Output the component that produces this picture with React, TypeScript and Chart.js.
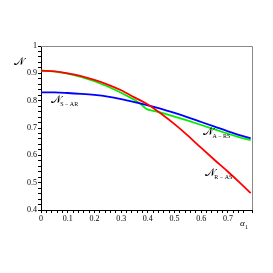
import React, { useEffect, useRef } from "react";
import { Chart, registerables } from "chart.js";

Chart.register(...registerables);

const alphaGrid = [0, 0.05, 0.1, 0.15, 0.2, 0.25, 0.3, 0.35, 0.4, 0.45, 0.5, 0.55, 0.6, 0.65, 0.7, 0.75, 0.785];
const redRAS = [0.910, 0.907, 0.900, 0.890, 0.876, 0.859, 0.838, 0.812, 0.786, 0.752, 0.714, 0.672, 0.627, 0.583, 0.540, 0.495, 0.462];
const blueSAR = [0.830, 0.830, 0.828, 0.825, 0.821, 0.815, 0.806, 0.795, 0.783, 0.770, 0.755, 0.739, 0.722, 0.705, 0.688, 0.672, 0.662];
const alphaGreen = [0, 0.05, 0.1, 0.15, 0.2, 0.25, 0.3, 0.35, 0.37, 0.39, 0.4, 0.42, 0.45, 0.5, 0.55, 0.6, 0.65, 0.7, 0.75, 0.785];
const greenARS = [0.910, 0.907, 0.899, 0.887, 0.871, 0.852, 0.829, 0.803, 0.790, 0.773, 0.767, 0.763, 0.756, 0.742, 0.727, 0.711, 0.695, 0.679, 0.664, 0.656];

const yTickLabels = ["0.4", "0.5", "0.6", "0.7", "0.8", "0.9", "1"];
const xTickLabels = ["0", "0.1", "0.2", "0.3", "0.4", "0.5", "0.6", "0.7"];

const curveLabels = [
  { sub: "S − AR", x: 0.038, y: 0.792 },
  { sub: "A − RS", x: 0.608, y: 0.673 },
  { sub: "R − AS", x: 0.615, y: 0.526 },
];

const SERIF = "'Liberation Serif', 'DejaVu Serif', serif";

function toPts(xs: number[], ys: number[]) {
  return xs.map((x, i) => ({ x, y: ys[i] }));
}

function labelFor(v: number, list: string[]) {
  const r = Math.round(v * 10);
  if (Math.abs(v * 10 - r) > 1e-6) return "";
  const s = r === 0 ? "0" : r === 10 ? "1" : (r / 10).toFixed(1);
  return list.includes(s) ? s : "";
}

const decorPlugin = {
  id: "decor",
  afterDraw(chart: any) {
    const { ctx, chartArea, scales } = chart;
    const xs = scales.x;
    const ys = scales.y;
    ctx.save();
    ctx.strokeStyle = "#888";
    ctx.lineWidth = 1;
    ctx.beginPath();
    ctx.moveTo(chartArea.left, chartArea.top + 0.5);
    ctx.lineTo(chartArea.right + 0.5, chartArea.top + 0.5);
    ctx.lineTo(chartArea.right + 0.5, chartArea.bottom);
    ctx.stroke();
    ctx.fillStyle = "#000";
    ctx.textBaseline = "alphabetic";
    ctx.textAlign = "left";
    for (const l of curveLabels) {
      const px = xs.getPixelForValue(l.x);
      const py = ys.getPixelForValue(l.y);
      ctx.font = `11px ${SERIF}`;
      ctx.fillText("𝒩", px, py);
      ctx.font = `6px ${SERIF}`;
      ctx.fillText(l.sub, px + 9, py + 3);
    }
    ctx.font = `11px ${SERIF}`;
    ctx.fillText("𝒩", chartArea.left - 27, chartArea.top + 19);
    ctx.font = `italic 9px ${SERIF}`;
    ctx.fillText("α", chartArea.right - 12, chartArea.bottom + 16);
    ctx.font = `6px ${SERIF}`;
    ctx.fillText("1", chartArea.right - 7, chartArea.bottom + 19);
    ctx.restore();
  },
};

export default function App() {
  const ref = useRef<HTMLCanvasElement | null>(null);
  useEffect(() => {
    if (!ref.current) return;
    const chart = new Chart(ref.current, {
      type: "line",
      data: {
        datasets: [
          {
            label: "R-AS",
            data: toPts(alphaGrid, redRAS),
            borderColor: "#ff0000",
            borderWidth: 1.8,
            pointRadius: 0,
            cubicInterpolationMode: "monotone",
          },
          {
            label: "S-AR",
            data: toPts(alphaGrid, blueSAR),
            borderColor: "#0000ff",
            borderWidth: 1.8,
            pointRadius: 0,
            cubicInterpolationMode: "monotone",
          },
          {
            label: "A-RS",
            data: toPts(alphaGreen, greenARS),
            borderColor: "#00ee00",
            borderWidth: 1.8,
            pointRadius: 0,
            tension: 0,
          },
        ],
      },
      options: {
        animation: false,
        responsive: false,
        maintainAspectRatio: false,
        layout: { padding: { top: 46, right: 21, left: 0, bottom: 0 } },
        plugins: { legend: { display: false }, tooltip: { enabled: false } },
        scales: {
          x: {
            type: "linear",
            min: 0,
            max: 0.79,
            afterFit: (s: any) => { s.height = 63; },
            border: { color: "#000", width: 1 },
            grid: { drawOnChartArea: false, tickLength: 3, color: "#000" },
            ticks: {
              stepSize: 0.02,
              autoSkip: false,
              maxRotation: 0,
              padding: 1,
              color: "#000",
              font: { family: SERIF, size: 8 },
              callback: (v: any) => labelFor(Number(v), xTickLabels),
            },
          },
          y: {
            type: "linear",
            min: 0.4,
            max: 1,
            afterFit: (s: any) => { s.width = 41; },
            border: { color: "#000", width: 1 },
            grid: { drawOnChartArea: false, tickLength: 3, color: "#000" },
            ticks: {
              stepSize: 0.02,
              autoSkip: false,
              padding: 1,
              color: "#000",
              font: { family: SERIF, size: 8 },
              callback: (v: any) => labelFor(Number(v), yTickLabels),
            },
          },
        },
      },
      plugins: [decorPlugin],
    });
    return () => chart.destroy();
  }, []);
  return (
    <div style={{ position: "absolute", left: 0, top: 0, width: 273, height: 273, background: "#fff" }}>
      <canvas ref={ref} width={273} height={273} style={{ width: 273, height: 273 }} />
    </div>
  );
}
